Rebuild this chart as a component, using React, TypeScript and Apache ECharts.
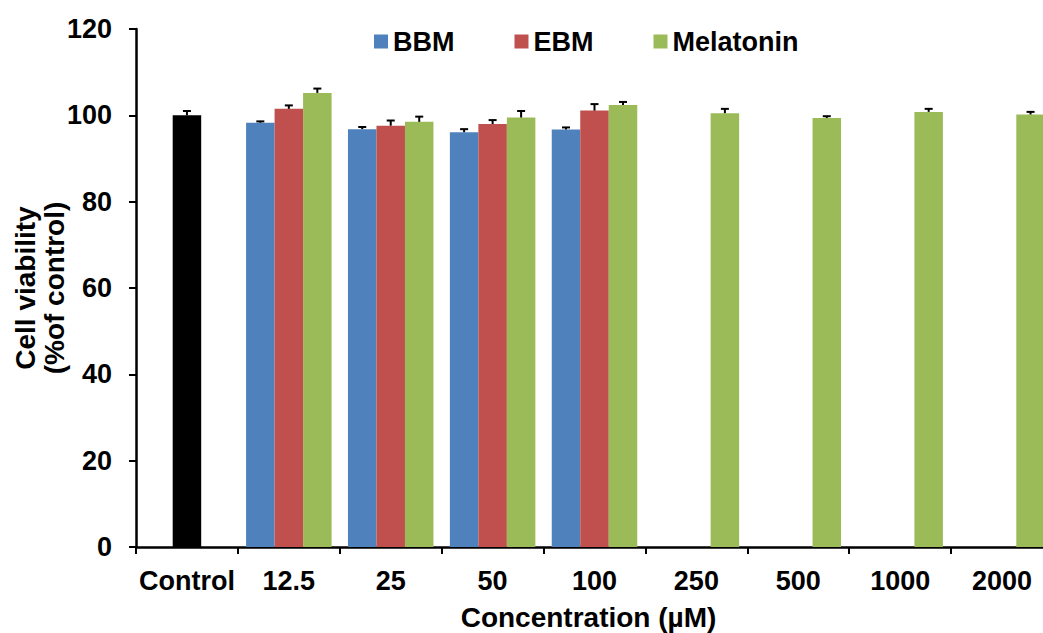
import React, { useEffect, useRef } from "react";
import * as echarts from "echarts";

const categories = ["Control", "12.5", "25", "50", "100", "250", "500", "1000", "2000"];
const bbmValues: (number | null)[] = [null, 98.3, 96.8, 96.1, 96.7, null, null, null, null];
const bbmErrors: (number | null)[] = [null, 0.3, 0.5, 0.7, 0.5, null, null, null, null];
const ebmValues: (number | null)[] = [100.0, 101.5, 97.6, 98.0, 101.1, null, null, null, null];
const ebmErrors: (number | null)[] = [1.0, 0.8, 1.2, 0.9, 1.5, null, null, null, null];
const melValues: (number | null)[] = [null, 105.2, 98.5, 99.5, 102.4, 100.5, 99.4, 100.8, 100.2];
const melErrors: (number | null)[] = [null, 1.0, 1.2, 1.5, 0.7, 1.0, 0.4, 0.7, 0.6];
const yTicks = { min: 0, max: 120, interval: 20 };

const FONT = "'Liberation Sans', Arial, sans-serif";
const BAR_W = 28.5;
const COLORS = { bbm: "#4F81BD", ebm: "#C0504D", mel: "#9BBB59", control: "#000000" };

function errorSeries(name: string, values: (number | null)[], errors: (number | null)[], slot: number) {
  const data: number[][] = [];
  values.forEach((v, i) => {
    const e = errors[i];
    if (v != null && e != null) data.push([i, v, e]);
  });
  return {
    type: "custom",
    name: name + "-err",
    data,
    z: 5,
    silent: true,
    renderItem: (params: any, api: any) => {
      const idx = api.value(0);
      const v = api.value(1);
      const e = api.value(2);
      const base = api.coord([idx, v]);
      const top = api.coord([idx, v + e]);
      const x = base[0] + slot * BAR_W;
      return {
        type: "group",
        children: [
          {
            type: "line",
            shape: { x1: x, y1: base[1], x2: x, y2: top[1] },
            style: { stroke: "#000", lineWidth: 2 },
          },
          {
            type: "line",
            shape: { x1: x - 4, y1: top[1], x2: x + 4, y2: top[1] },
            style: { stroke: "#000", lineWidth: 2 },
          },
        ],
      };
    },
  };
}

export default function App() {
  const ref = useRef<HTMLDivElement>(null);
  useEffect(() => {
    if (!ref.current) return;
    const chart = echarts.init(ref.current, undefined, { renderer: "svg" });
    const ebmData = ebmValues.map((v, i) =>
      i === 0 && v != null ? { value: v, itemStyle: { color: COLORS.control } } : v == null ? "-" : v
    );
    chart.setOption({
      animation: false,
      backgroundColor: "#fff",
      textStyle: { fontFamily: FONT },
      legend: {
        left: 369,
        top: 23,
        itemWidth: 14,
        itemHeight: 14,
        itemGap: 60,
        icon: "rect",
        data: ["BBM", "EBM", "Melatonin"],
        textStyle: { fontSize: 27, fontWeight: "bold", color: "#000", fontFamily: FONT },
      },
      grid: { left: 136, right: 0, top: 29, bottom: 86, containLabel: false, outerBoundsMode: "none" },
      xAxis: {
        type: "category",
        data: categories,
        name: "Concentration (µM)",
        nameLocation: "middle",
        nameGap: 56,
        nameMoveOverlap: false,
        nameTextStyle: { fontSize: 28, fontWeight: "bold", color: "#000", fontFamily: FONT, padding: [0, 0, 0, -12] },
        axisLine: { lineStyle: { color: "#000", width: 2.5 } },
        axisTick: { show: true, length: 7, lineStyle: { color: "#000", width: 2 } },
        axisLabel: { fontSize: 27, fontWeight: "bold", color: "#000", margin: 20, fontFamily: FONT, interval: 0 },
        splitLine: { show: false },
      },
      yAxis: {
        type: "value",
        min: yTicks.min,
        max: yTicks.max,
        interval: yTicks.interval,
        name: "Cell viability\n(%of control)",
        nameLocation: "middle",
        nameGap: 67,
        nameMoveOverlap: false,
        nameTextStyle: { fontSize: 28, fontWeight: "bold", color: "#000", fontFamily: FONT, lineHeight: 29 },
        axisLine: { show: true, lineStyle: { color: "#000", width: 2.5 } },
        axisTick: { show: true, length: 7, lineStyle: { color: "#000", width: 2 } },
        axisLabel: { fontSize: 27, fontWeight: "bold", color: "#000", margin: 24, fontFamily: FONT },
        splitLine: { show: false },
      },
      series: [
        {
          type: "bar",
          name: "BBM",
          data: bbmValues.map((v) => (v == null ? "-" : v)),
          barWidth: BAR_W,
          barGap: "0%",
          itemStyle: { color: COLORS.bbm },
        },
        {
          type: "bar",
          name: "EBM",
          data: ebmData,
          barWidth: BAR_W,
          barGap: "0%",
          itemStyle: { color: COLORS.ebm },
        },
        {
          type: "bar",
          name: "Melatonin",
          data: melValues.map((v) => (v == null ? "-" : v)),
          barWidth: BAR_W,
          barGap: "0%",
          itemStyle: { color: COLORS.mel },
        },
        errorSeries("BBM", bbmValues, bbmErrors, -1),
        errorSeries("EBM", ebmValues, ebmErrors, 0),
        errorSeries("Melatonin", melValues, melErrors, 1),
      ],
    });
    return () => chart.dispose();
  }, []);
  return (
    <div style={{ position: "fixed", left: 0, top: 0, width: 1043, height: 633, overflow: "hidden", background: "#fff" }}>
      <div ref={ref} style={{ width: 1053, height: 633 }} />
    </div>
  );
}
